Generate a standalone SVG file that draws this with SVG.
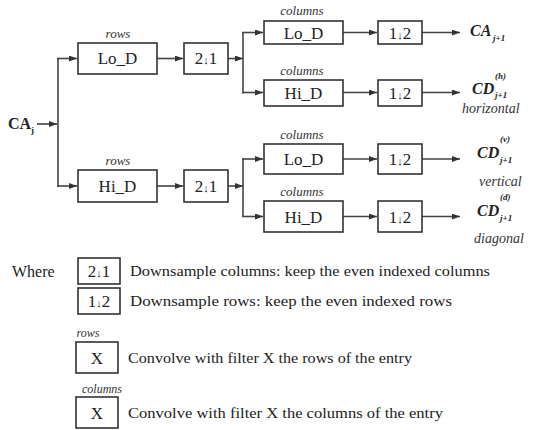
<svg xmlns="http://www.w3.org/2000/svg" width="535" height="430" viewBox="0 0 535 430" font-family="'Liberation Serif', 'Times New Roman', Times, 'DejaVu Serif', serif">
<style>
  .box { fill: #fff; stroke: #333; stroke-width: 1.6; }
  text { font-family: "Liberation Serif", "Times New Roman", Times, "DejaVu Serif", serif; }
  .lbl { font-size: 17px; fill: #222; text-anchor: middle; }
  .ital { font-style: italic; font-size: 13px; fill: #333; text-anchor: middle; }
  .out { font-style: italic; font-weight: bold; font-size: 16px; fill: #222; }
  .sub { font-size: 9px; }
  .desc { font-style: italic; font-size: 14px; fill: #333; }
  .txt { font-size: 14px; fill: #222; }
  .arr { font-size: 11px; }
  .conn line { stroke: #444; stroke-width: 1.6; fill: none; }
</style>
<defs>
  <marker id="ah" markerWidth="8" markerHeight="6" refX="8" refY="3" orient="auto" markerUnits="userSpaceOnUse">
    <path d="M0,0 L8,3 L0,6 Z" fill="#333"/>
  </marker>
</defs>

<g class="conn" id="connectors">
  <line x1="37" y1="124" x2="57" y2="124" marker-end="url(#ah)"/>
  <line x1="58" y1="58" x2="58" y2="187"/>
  <line x1="57" y1="58.5" x2="77" y2="58.5" marker-end="url(#ah)"/>
  <line x1="57" y1="186" x2="77" y2="186" marker-end="url(#ah)"/>
  <line x1="157" y1="58.5" x2="183" y2="58.5" marker-end="url(#ah)"/>
  <line x1="157" y1="186" x2="183" y2="186" marker-end="url(#ah)"/>
  <line x1="228" y1="58.5" x2="243" y2="58.5" marker-end="url(#ah)"/>
  <line x1="228" y1="186" x2="243" y2="186" marker-end="url(#ah)"/>
  <line x1="243" y1="32" x2="243" y2="93.5"/>
  <line x1="243" y1="158" x2="243" y2="217"/>
  <line x1="242.2" y1="32.5" x2="263" y2="32.5" marker-end="url(#ah)"/>
  <line x1="242.2" y1="92.5" x2="263" y2="92.5" marker-end="url(#ah)"/>
  <line x1="242.2" y1="159" x2="263" y2="159" marker-end="url(#ah)"/>
  <line x1="242.2" y1="216.5" x2="263" y2="216.5" marker-end="url(#ah)"/>
  <line x1="343" y1="32.5" x2="377" y2="32.5" marker-end="url(#ah)"/>
  <line x1="343" y1="92.5" x2="377" y2="92.5" marker-end="url(#ah)"/>
  <line x1="343" y1="159" x2="377" y2="159" marker-end="url(#ah)"/>
  <line x1="343" y1="216.5" x2="377" y2="216.5" marker-end="url(#ah)"/>
  <line x1="422" y1="32.5" x2="460" y2="32.5" marker-end="url(#ah)"/>
  <line x1="422" y1="92.5" x2="460" y2="92.5" marker-end="url(#ah)"/>
  <line x1="422" y1="159" x2="460" y2="159" marker-end="url(#ah)"/>
  <line x1="422" y1="216.5" x2="460" y2="216.5" marker-end="url(#ah)"/>
</g>

<g id="ca_j">
  <text class="out" x="8" y="129" style="font-style:normal">CA<tspan class="sub" dy="4">j</tspan></text>
</g>

<g id="lo_d_rows">
  <text class="ital" x="118" y="38">rows</text>
  <rect class="box" x="78" y="43" width="79" height="31"/>
  <text class="lbl" x="117.5" y="64">Lo_D</text>
</g>
<g id="hi_d_rows">
  <text class="ital" x="118" y="165">rows</text>
  <rect class="box" x="78" y="170" width="79" height="32"/>
  <text class="lbl" x="117.5" y="192">Hi_D</text>
</g>
<g id="ds_cols_top">
  <rect class="box" x="184" y="43" width="44" height="31"/>
  <text class="lbl" x="206" y="64">2<tspan class="arr">↓</tspan>1</text>
</g>
<g id="ds_cols_bottom">
  <rect class="box" x="184" y="170" width="44" height="32"/>
  <text class="lbl" x="206" y="192">2<tspan class="arr">↓</tspan>1</text>
</g>

<g id="lo_d_cols_1">
  <text class="ital" x="302" y="15">columns</text>
  <rect class="box" x="264" y="21" width="79" height="23"/>
  <text class="lbl" x="303.5" y="38.5">Lo_D</text>
</g>
<g id="hi_d_cols_1">
  <text class="ital" x="302" y="75">columns</text>
  <rect class="box" x="264" y="80" width="79" height="26"/>
  <text class="lbl" x="303.5" y="99">Hi_D</text>
</g>
<g id="lo_d_cols_2">
  <text class="ital" x="302" y="139">columns</text>
  <rect class="box" x="264" y="144" width="79" height="30"/>
  <text class="lbl" x="303.5" y="165">Lo_D</text>
</g>
<g id="hi_d_cols_2">
  <text class="ital" x="302" y="196">columns</text>
  <rect class="box" x="264" y="201" width="79" height="31"/>
  <text class="lbl" x="303.5" y="222.5">Hi_D</text>
</g>

<g id="ds_rows_1">
  <rect class="box" x="378" y="21" width="44" height="23"/>
  <text class="lbl" x="400" y="38.5">1<tspan class="arr">↓</tspan>2</text>
</g>
<g id="ds_rows_2">
  <rect class="box" x="378" y="80" width="44" height="26"/>
  <text class="lbl" x="400" y="99">1<tspan class="arr">↓</tspan>2</text>
</g>
<g id="ds_rows_3">
  <rect class="box" x="378" y="144" width="44" height="30"/>
  <text class="lbl" x="400" y="165">1<tspan class="arr">↓</tspan>2</text>
</g>
<g id="ds_rows_4">
  <rect class="box" x="378" y="201" width="44" height="31"/>
  <text class="lbl" x="400" y="222.5">1<tspan class="arr">↓</tspan>2</text>
</g>

<g id="out_ca">
  <text class="out" x="470" y="36">CA</text>
  <text class="out sub" x="493" y="41">j+1</text>
</g>
<g id="out_h">
  <text class="out" x="472" y="94">CD</text>
  <text class="out sub" x="495" y="79">(h)</text>
  <text class="out sub" x="495" y="98">j+1</text>
  <text class="desc" x="462" y="113">horizontal</text>
</g>
<g id="out_v">
  <text class="out" x="477" y="158">CD</text>
  <text class="out sub" x="500" y="142">(v)</text>
  <text class="out sub" x="500" y="163">j+1</text>
  <text class="desc" x="479" y="186">vertical</text>
</g>
<g id="out_d">
  <text class="out" x="477" y="216">CD</text>
  <text class="out sub" x="500" y="200">(d)</text>
  <text class="out sub" x="500" y="221">j+1</text>
  <text class="desc" x="474" y="243">diagonal</text>
</g>

<g id="legend">
  <text class="txt" x="12" y="277" style="font-size:16px">Where</text>
  <rect class="box" x="78" y="258" width="42" height="26"/>
  <text class="lbl" x="99" y="277">2<tspan class="arr">↓</tspan>1</text>
  <text class="txt" x="130" y="276" textLength="360" lengthAdjust="spacingAndGlyphs">Downsample columns: keep the even indexed columns</text>
  <rect class="box" x="78" y="288" width="42" height="26"/>
  <text class="lbl" x="99" y="307">1<tspan class="arr">↓</tspan>2</text>
  <text class="txt" x="130" y="306" textLength="322" lengthAdjust="spacingAndGlyphs">Downsample rows: keep the even indexed rows</text>
  <text class="ital" x="88" y="337" style="font-size:12px">rows</text>
  <rect class="box" x="76" y="342" width="42" height="31"/>
  <text class="lbl" x="97" y="364">X</text>
  <text class="txt" x="128" y="363" textLength="284" lengthAdjust="spacingAndGlyphs">Convolve with filter X the rows of the entry</text>
  <text class="ital" x="102" y="393" style="font-size:12px">columns</text>
  <rect class="box" x="76" y="397" width="42" height="31"/>
  <text class="lbl" x="97" y="419">X</text>
  <text class="txt" x="128" y="418" textLength="315" lengthAdjust="spacingAndGlyphs">Convolve with filter X the columns of the entry</text>
</g>
</svg>
